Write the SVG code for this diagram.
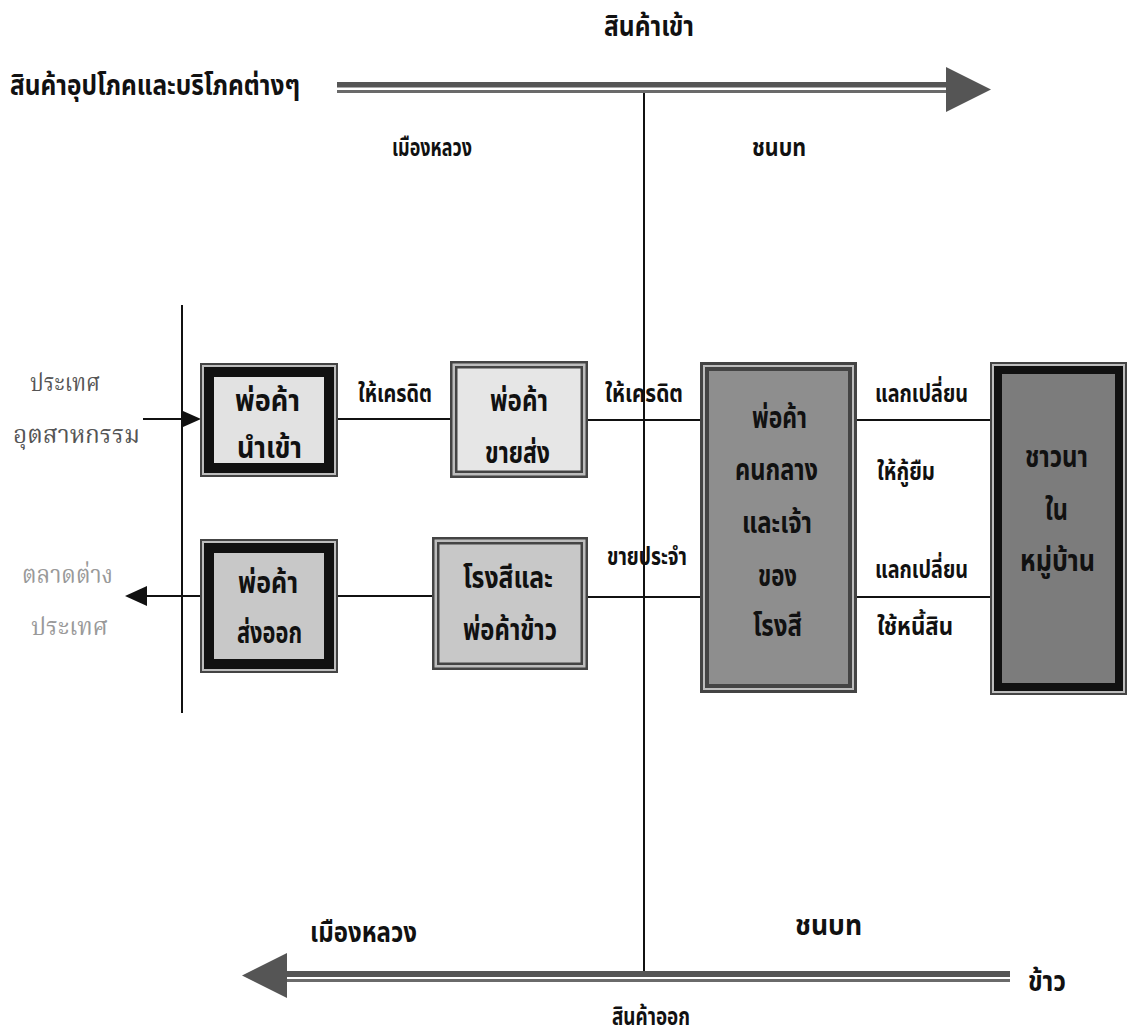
<svg xmlns="http://www.w3.org/2000/svg" width="1128" height="1035" viewBox="0 0 1128 1035">
<style>
text{font-family:"Noto Sans Thai","Noto Sans","DejaVu Sans",sans-serif;}
.b{font-weight:bold;fill:#111;font-size:28px;}
.bx{font-weight:bold;fill:#111;font-size:30px;}
.lbl{font-weight:bold;fill:#111;font-size:25px;}
.reg{font-family:"Noto Serif Thai","Noto Sans Thai","Liberation Serif",serif;font-size:25px;}
.line{stroke:#111;stroke-width:2;fill:none;}
.flow{fill:#555;}
.flow2{fill:#6a6a6a;}
.o{fill:#444;}.g{fill:#bdbdbd;}.k{fill:#111;}
</style>

<g id="flows">
  <rect class="flow" x="337" y="82" width="611" height="5.5"/>
  <rect class="flow2" x="337" y="90" width="611" height="3"/>
  <polygon class="flow" points="946,67 991,89.5 946,112"/>
  <rect class="flow" x="287" y="971" width="723" height="6"/>
  <rect class="flow2" x="287" y="979" width="723" height="3"/>
  <polygon class="flow" points="287,953 242,975.5 287,998"/>
</g>

<g id="connectors">
  <line class="line" x1="644" y1="93" x2="644" y2="971"/>
  <line class="line" x1="182" y1="305" x2="182" y2="713"/>
  <line class="line" x1="143" y1="419" x2="185" y2="419"/>
  <polygon class="k" points="183,411 201,419 183,427"/>
  <line class="line" x1="145" y1="596" x2="200" y2="596"/>
  <polygon class="k" points="147,586 125,596 147,606"/>
  <line class="line" x1="338" y1="419" x2="450" y2="419"/>
  <line class="line" x1="588" y1="420" x2="700" y2="420"/>
  <line class="line" x1="338" y1="596" x2="432" y2="596"/>
  <line class="line" x1="588" y1="597" x2="700" y2="597"/>
  <line class="line" x1="857" y1="420" x2="990" y2="420"/>
  <line class="line" x1="857" y1="597" x2="990" y2="597"/>
  <text class="lbl" x="358" y="402" textLength="74" lengthAdjust="spacingAndGlyphs">ให้เครดิต</text>
  <text class="lbl" x="605" y="402" textLength="78" lengthAdjust="spacingAndGlyphs">ให้เครดิต</text>
  <text class="lbl" x="607" y="565" textLength="80" lengthAdjust="spacingAndGlyphs">ขายประจำ</text>
  <text class="lbl" x="875" y="402" textLength="93" lengthAdjust="spacingAndGlyphs">แลกเปลี่ยน</text>
  <text class="lbl" x="877" y="480" textLength="58" lengthAdjust="spacingAndGlyphs">ให้กู้ยืม</text>
  <text class="lbl" x="875" y="578" textLength="93" lengthAdjust="spacingAndGlyphs">แลกเปลี่ยน</text>
  <text class="lbl" x="877" y="635" textLength="76" lengthAdjust="spacingAndGlyphs">ใช้หนี้สิน</text>
</g>

<g id="titles">
  <text class="b" x="604" y="36" textLength="90" lengthAdjust="spacingAndGlyphs">สินค้าเข้า</text>
  <text class="b" x="10" y="95" textLength="290" lengthAdjust="spacingAndGlyphs">สินค้าอุปโภคและบริโภคต่างๆ</text>
  <text class="lbl" x="392" y="156" textLength="80" lengthAdjust="spacingAndGlyphs">เมืองหลวง</text>
  <text class="lbl" x="752" y="156" textLength="54" lengthAdjust="spacingAndGlyphs">ชนบท</text>
  <text class="b" x="310" y="942" textLength="107" lengthAdjust="spacingAndGlyphs">เมืองหลวง</text>
  <text class="b" x="795" y="935" textLength="67" lengthAdjust="spacingAndGlyphs">ชนบท</text>
  <text class="b" x="1028" y="991" textLength="38" lengthAdjust="spacingAndGlyphs">ข้าว</text>
  <text class="lbl" x="612" y="1025" textLength="78" lengthAdjust="spacingAndGlyphs">สินค้าออก</text>
</g>

<g id="industrial-country">
  <text class="reg" fill="#555" x="30" y="391" textLength="70" lengthAdjust="spacingAndGlyphs">ประเทศ</text>
  <text class="reg" fill="#555" x="13" y="443" textLength="127" lengthAdjust="spacingAndGlyphs">อุตสาหกรรม</text>
</g>
<g id="foreign-market">
  <text class="reg" fill="#999" x="22" y="583" textLength="91" lengthAdjust="spacingAndGlyphs">ตลาดต่าง</text>
  <text class="reg" fill="#999" x="31" y="635" textLength="77" lengthAdjust="spacingAndGlyphs">ประเทศ</text>
</g>

<g id="importer">
  <rect class="o" x="200" y="363" width="138" height="114"/>
  <rect class="g" x="202" y="365" width="134" height="110"/>
  <rect class="k" x="204" y="367" width="130" height="106"/>
  <rect fill="#e2e2e2" x="214" y="377" width="110" height="86"/>
  <text class="bx" x="235" y="411" textLength="65" lengthAdjust="spacingAndGlyphs">พ่อค้า</text>
  <text class="bx" x="237" y="458" textLength="65" lengthAdjust="spacingAndGlyphs">นำเข้า</text>
</g>

<g id="wholesaler">
  <rect class="o" x="450" y="361" width="138" height="117"/>
  <rect class="g" x="452.5" y="363.5" width="133" height="112"/>
  <rect class="o" x="455" y="366" width="128" height="107"/>
  <rect fill="#e6e6e6" x="457.5" y="368.5" width="123" height="102"/>
  <text class="bx" x="490" y="411" textLength="58" lengthAdjust="spacingAndGlyphs">พ่อค้า</text>
  <text class="bx" x="485" y="463" textLength="65" lengthAdjust="spacingAndGlyphs">ขายส่ง</text>
</g>

<g id="exporter">
  <rect class="o" x="200" y="539" width="138" height="134"/>
  <rect class="g" x="202" y="541" width="134" height="130"/>
  <rect class="k" x="204" y="543" width="130" height="126"/>
  <rect fill="#c8c8c8" x="214" y="553" width="110" height="106"/>
  <text class="bx" x="238" y="593" textLength="60" lengthAdjust="spacingAndGlyphs">พ่อค้า</text>
  <text class="bx" x="237" y="643" textLength="65" lengthAdjust="spacingAndGlyphs">ส่งออก</text>
</g>

<g id="rice-mill-trader">
  <rect class="o" x="432" y="537" width="156" height="133"/>
  <rect class="g" x="434.5" y="539.5" width="151" height="128"/>
  <rect class="o" x="437" y="542" width="146" height="123"/>
  <rect fill="#c8c8c8" x="439.5" y="544.5" width="141" height="118"/>
  <text class="bx" x="463" y="588" textLength="90" lengthAdjust="spacingAndGlyphs">โรงสีและ</text>
  <text class="bx" x="463" y="640" textLength="94" lengthAdjust="spacingAndGlyphs">พ่อค้าข้าว</text>
</g>

<g id="middleman">
  <rect class="o" x="700" y="362" width="157" height="331"/>
  <rect class="g" x="703" y="365" width="151" height="325"/>
  <rect class="o" x="705" y="367" width="147" height="321"/>
  <rect fill="#8e8e8e" x="709" y="371" width="139" height="313"/>
  <text class="bx" x="752" y="428" textLength="55" lengthAdjust="spacingAndGlyphs">พ่อค้า</text>
  <text class="bx" x="735" y="480" textLength="83" lengthAdjust="spacingAndGlyphs">คนกลาง</text>
  <text class="bx" x="742" y="533" textLength="70" lengthAdjust="spacingAndGlyphs">และเจ้า</text>
  <text class="bx" x="758" y="586" textLength="39" lengthAdjust="spacingAndGlyphs">ของ</text>
  <text class="bx" x="753" y="636" textLength="49" lengthAdjust="spacingAndGlyphs">โรงสี</text>
</g>

<g id="farmers">
  <rect class="o" x="990" y="362" width="137" height="333"/>
  <rect class="g" x="992" y="364" width="133" height="329"/>
  <rect class="k" x="994" y="366" width="129" height="325"/>
  <rect fill="#7c7c7c" x="1002" y="374" width="113" height="309"/>
  <text class="bx" x="1025" y="467" textLength="63" lengthAdjust="spacingAndGlyphs">ชาวนา</text>
  <text class="bx" x="1045" y="520" textLength="23" lengthAdjust="spacingAndGlyphs">ใน</text>
  <text class="bx" x="1020" y="571" textLength="75" lengthAdjust="spacingAndGlyphs">หมู่บ้าน</text>
</g>
</svg>
